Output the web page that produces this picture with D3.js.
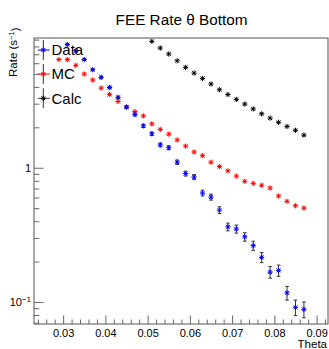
<!DOCTYPE html>
<html>
<head>
<meta charset="utf-8">
<script src="https://cdn.jsdelivr.net/npm/d3@7"></script>
<style>
  html, body { margin: 0; padding: 0; background: #fff; }
  svg { display: block; }
  text { font-family: "Liberation Sans", Arial, Helvetica, sans-serif; }
</style>
</head>
<body>
<svg id="chart" width="329" height="349"></svg>
<script>
// ---- data ----
const dataTheta = [0.031,0.033,0.035,0.037,0.039,0.041,0.043,0.045,0.047,0.049,0.051,0.053,0.055,0.057,0.059,0.061,0.063,0.065,0.067,0.069,0.071,0.073,0.075,0.077,0.079,0.081,0.083,0.085,0.087];
const dataRate  = [8.27,7.43,6.39,5.37,4.71,3.96,3.34,2.83,2.49,2.05,1.79,1.48,1.41,1.10,0.905,0.853,0.648,0.605,0.484,0.363,0.350,0.306,0.263,0.215,0.167,0.172,0.117,0.0913,0.0882];
const dataErr   = [0.12,0.11,0.10,0.09,0.085,0.08,0.073,0.067,0.063,0.057,0.053,0.049,0.047,0.042,0.038,0.037,0.032,0.031,0.028,0.024,0.024,0.022,0.0205,0.0185,0.0164,0.0165,0.0137,0.0121,0.0119];

const mcTheta = [0.029,0.031,0.033,0.035,0.037,0.039,0.041,0.043,0.045,0.047,0.049,0.051,0.053,0.055,0.057,0.059,0.061,0.063,0.065,0.067,0.069,0.071,0.073,0.075,0.077,0.079,0.081,0.083,0.085,0.087];
const mcRate  = [6.39,6.39,5.79,4.99,4.50,3.92,3.51,3.11,2.82,2.62,2.43,2.12,1.93,1.78,1.61,1.45,1.31,1.23,1.10,1.02,0.948,0.867,0.792,0.765,0.740,0.706,0.616,0.562,0.521,0.501];

const calcTheta = [0.051,0.053,0.055,0.057,0.059,0.061,0.063,0.065,0.067,0.069,0.071,0.073,0.075,0.077,0.079,0.081,0.083,0.085,0.087];
const calcRate  = [8.73,7.79,7.03,6.26,5.59,5.07,4.63,4.20,3.81,3.51,3.23,2.98,2.74,2.52,2.34,2.18,2.03,1.90,1.75];

const xMajorTicks = [0.03,0.04,0.05,0.06,0.07,0.08,0.09];
const xTickLabels = ["0.03","0.04","0.05","0.06","0.07","0.08","0.09"];
const xMinorTicks = [0.024,0.026,0.028,0.032,0.034,0.036,0.038,0.042,0.044,0.046,0.048,0.052,0.054,0.056,0.058,0.062,0.064,0.066,0.068,0.072,0.074,0.076,0.078,0.082,0.084,0.086,0.088,0.092];
const yMajorTicks = [0.1, 1];
const yTickLabels = ["10^-1", "1"];
const yMinorTicks = [0.07,0.08,0.09,0.2,0.3,0.4,0.5,0.6,0.7,0.8,0.9,2,3,4,5,6,7,8,9];

const legendLabels = ["Data","MC","Calc"];
const seriesColors = ["#0000ff","#ff0000","#000000"];

// ---- layout ----
const svg = d3.select("#chart");
const L = 34, R = 328, T = 38, B = 324;
const x = d3.scaleLinear().domain([0.0231, 0.0927]).range([L, R]);
const y = d3.scaleLog().domain([0.0686, 9.25]).range([B, T]);

// title
svg.append("text").attr("x", 181.5).attr("y", 25).attr("text-anchor", "middle")
  .attr("font-size", 15.3).attr("fill", "#000").text("FEE Rate θ Bottom");

// frame
svg.append("rect").attr("x", L).attr("y", T).attr("width", R - L).attr("height", B - T)
  .attr("fill", "none").attr("stroke", "#555").attr("stroke-width", 1);

// x axis
const xMaj = d3.axisBottom(x).tickValues(xMajorTicks).tickSize(-8.5)
  .tickFormat((d, i) => xTickLabels[i]);
const gx = svg.append("g").attr("transform", `translate(0,${B})`).call(xMaj);
gx.select(".domain").remove();
gx.selectAll("line").attr("stroke", "#666");
gx.selectAll("text").attr("font-size", 11).attr("fill", "#000").attr("y", 5).attr("dy", "0.71em")
  .style("font-family", "'Liberation Sans', Arial, sans-serif");
const gxm = svg.append("g").attr("transform", `translate(0,${B})`)
  .call(d3.axisBottom(x).tickValues(xMinorTicks).tickSize(-4.5).tickFormat(""));
gxm.select(".domain").remove();
gxm.selectAll("line").attr("stroke", "#666");

svg.append("text").attr("x", 327).attr("y", 348).attr("text-anchor", "end")
  .attr("font-size", 11.5).attr("fill", "#000").text("Theta");

// y axis
const gy = svg.append("g").attr("transform", `translate(${L},0)`)
  .call(d3.axisLeft(y).tickValues(yMajorTicks).tickSize(-9.5).tickFormat((d, i) => yTickLabels[i]));
gy.select(".domain").remove();
gy.selectAll("line").attr("stroke", "#666");
gy.selectAll("text").attr("font-size", 11).attr("fill", "#000").attr("x", -3)
  .style("font-family", "'Liberation Sans', Arial, sans-serif")
  .each(function(d, i) {
    const lab = yTickLabels[i];
    const t = d3.select(this);
    if (lab.includes("^")) {
      const [base, exp] = lab.split("^");
      t.text(null);
      t.append("tspan").text(base);
      t.append("tspan").attr("dy", "-0.45em").attr("font-size", 8).text(exp.replace("-", "\u2212"));
    }
  });
const gym = svg.append("g").attr("transform", `translate(${L},0)`)
  .call(d3.axisLeft(y).tickValues(yMinorTicks).tickSize(-5.3).tickFormat(""));
gym.select(".domain").remove();
gym.selectAll("line").attr("stroke", "#666");

// y title
const yt = svg.append("text").attr("transform", "translate(17,77) rotate(-90)")
  .attr("text-anchor", "start").attr("font-size", 11.5).attr("fill", "#000");
yt.append("tspan").text("Rate (s");
yt.append("tspan").attr("dy", "-0.45em").attr("font-size", 7.5).text("\u22121");
yt.append("tspan").attr("dy", "0.45em").text(")");

// star marker
const star = "M-2.6,0H2.6M0,-2.6V2.6M-1.9,-1.9L1.9,1.9M-1.9,1.9L1.9,-1.9";
const plot = svg.append("g");

// data error bars
const eb = plot.append("g").attr("stroke", "#333").attr("stroke-width", 1);
dataTheta.forEach((t, i) => {
  const cx = x(t), y1 = y(dataRate[i] - dataErr[i]), y2 = y(dataRate[i] + dataErr[i]);
  eb.append("line").attr("x1", cx).attr("x2", cx).attr("y1", y1).attr("y2", y2);
  eb.append("line").attr("x1", cx - 1.8).attr("x2", cx + 1.8).attr("y1", y1).attr("y2", y1);
  eb.append("line").attr("x1", cx - 1.8).attr("x2", cx + 1.8).attr("y1", y2).attr("y2", y2);
});

function drawSeries(th, vals, color) {
  plot.append("g").selectAll("path").data(th).join("path")
    .attr("d", star)
    .attr("transform", (t, i) => `translate(${x(t)},${y(vals[i])})`)
    .attr("stroke", color).attr("stroke-width", 1).attr("fill", "none");
}
drawSeries(calcTheta, calcRate, seriesColors[2]);
drawSeries(mcTheta, mcRate, seriesColors[1]);
drawSeries(dataTheta, dataRate, seriesColors[0]);

// legend
const legY = [50, 74, 98.3];
const leg = svg.append("g");
legendLabels.forEach((lab, i) => {
  const cy = legY[i], cx = 43.3;
  leg.append("line").attr("x1", cx).attr("x2", cx).attr("y1", cy - 10).attr("y2", cy + 10)
    .attr("stroke", "#333").attr("stroke-width", 1);
  leg.append("line").attr("x1", cx - 5.5).attr("x2", cx + 6.5).attr("y1", cy).attr("y2", cy)
    .attr("stroke", seriesColors[i] === "#000000" ? "#333" : seriesColors[i]).attr("stroke-width", 1);
  leg.append("path").attr("d", star).attr("transform", `translate(${cx},${cy})`)
    .attr("stroke", seriesColors[i]).attr("stroke-width", 1).attr("fill", "none");
  leg.append("text").attr("x", 51.5).attr("y", cy + 5.3).attr("font-size", 15)
    .attr("fill", "#000").text(lab);
});
</script>
</body>
</html>
